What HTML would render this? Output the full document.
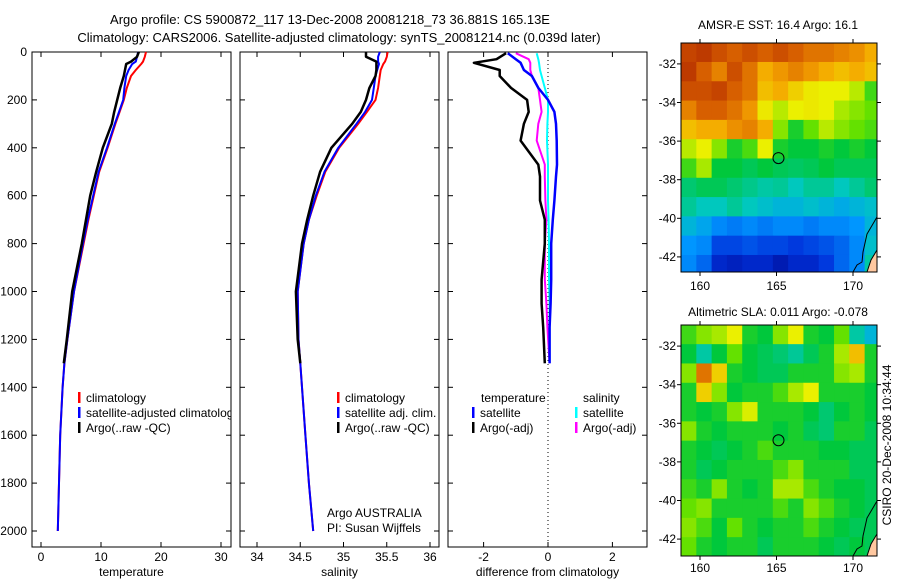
<!DOCTYPE html>
<html><head><meta charset="utf-8"><style>
body{margin:0;background:#fff;}
svg{display:block;font-family:"Liberation Sans",sans-serif;font-size:12px;}
</style></head><body>
<svg id="fig" width="900" height="580" viewBox="0 0 900 580">
<text x="330" y="24" text-anchor="middle" font-size="13">Argo profile: CS 5900872_117 13-Dec-2008 20081218_73 36.881S 165.13E</text>
<text x="339" y="42" text-anchor="middle" font-size="13">Climatology: CARS2006. Satellite-adjusted climatology: synTS_20081214.nc (0.039d later)</text>
<g id="g"></g>
</svg>
<script>
// ---- profile data ----
const depths=[0,20,40,50,75,100,150,200,250,300,400,500,600,700,800,1000,1200,1300,1400,1600,1800,2000];
const tempArgo=[16.3,16.0,15.0,14.2,14.0,13.8,13.2,12.7,12.2,11.8,10.3,9.2,8.2,7.5,6.8,5.2,4.3,3.8];
const tempSat=[16.2,16.0,15.8,15.2,14.6,14.2,13.9,13.7,13.0,12.3,11.0,9.6,8.7,7.8,7.0,5.5,4.4,3.9,3.6,3.2,3.0,2.8];
const tempClim=[17.5,17.3,17.0,16.7,15.8,15.0,14.3,13.8,13.1,12.4,11.1,9.7,8.8,7.9,7.1,5.5,4.4,3.9,3.6,3.2,3.0,2.8];
const salArgo=[35.26,35.26,35.38,35.38,35.38,35.37,35.30,35.26,35.2,35.1,34.86,34.73,34.65,34.58,34.52,34.45,34.47,34.5];
const salSat=[35.42,35.40,35.40,35.41,35.39,35.37,35.35,35.33,35.25,35.15,34.94,34.78,34.68,34.6,34.54,34.47,34.48,34.5,34.52,34.56,34.6,34.65];
const salClim=[35.51,35.50,35.48,35.46,35.43,35.42,35.40,35.37,35.27,35.17,34.95,34.79,34.69,34.6,34.54,34.47,34.48,34.5,34.52,34.56,34.6,34.65];
const diffDepths=[5,30,45,75,100,150,200,250,300,370,470,520,620,700,800,950,1050,1150,1300];
const dTempArgo=[-1.3,-1.6,-2.3,-1.5,-1.5,-1.15,-0.65,-0.6,-0.75,-0.85,-0.3,-0.25,-0.25,-0.1,-0.1,-0.2,-0.2,-0.15,-0.1];
const dTempSat=[-1.25,-1.0,-0.85,-0.75,-0.5,-0.3,0.0,0.2,0.25,0.27,0.28,0.25,0.2,0.15,0.1,0.1,0.08,0.05,0.05];
const dSalArgo=[-1.0,-0.6,-0.55,-0.55,-0.5,-0.3,-0.25,-0.2,-0.3,-0.35,-0.1,-0.1,-0.08,-0.05,-0.1,-0.1,-0.05,-0.02,0.05];
const dSalSat=[-0.35,-0.3,-0.28,-0.25,-0.2,-0.1,0.0,0.0,-0.02,-0.03,0.0,0.0,0.0,0.02,0.03,0.03,0.05,0.05,0.05];
const depthTicks=[0,200,400,600,800,1000,1200,1400,1600,1800,2000];
const tempTicks=[0,10,20,30];
const salTicks=[34,34.5,35,35.5,36];
const salTickLabels=["34","34.5","35","35.5","36"];
const diffTicks=[-2,0,2];
// ---- map data (normalised 0..1 colour values, 1-degree cells, rows north->south) ----
const sstGrid=[
[0.9,0.92,0.88,0.85,0.88,0.85,0.88,0.85,0.82,0.82,0.8,0.78,0.74],
[0.92,0.85,0.8,0.88,0.82,0.74,0.77,0.8,0.77,0.74,0.72,0.74,0.72],
[0.88,0.88,0.9,0.85,0.82,0.72,0.74,0.7,0.67,0.66,0.66,0.63,0.55],
[0.8,0.85,0.85,0.82,0.77,0.67,0.63,0.66,0.67,0.66,0.62,0.6,0.58],
[0.72,0.74,0.74,0.78,0.8,0.74,0.6,0.52,0.58,0.63,0.6,0.58,0.56],
[0.63,0.66,0.6,0.52,0.56,0.66,0.52,0.5,0.5,0.52,0.5,0.52,0.5],
[0.55,0.62,0.5,0.5,0.48,0.5,0.48,0.47,0.48,0.5,0.48,0.48,0.48],
[0.46,0.48,0.48,0.46,0.44,0.42,0.43,0.4,0.43,0.43,0.4,0.43,0.46],
[0.43,0.4,0.4,0.43,0.4,0.38,0.36,0.36,0.38,0.36,0.34,0.36,0.38],
[0.36,0.33,0.28,0.26,0.28,0.26,0.28,0.28,0.26,0.28,0.28,0.3,0.36],
[0.3,0.28,0.18,0.18,0.2,0.18,0.18,0.16,0.18,0.2,0.23,0.28,0.38],
[0.28,0.23,0.12,0.1,0.12,0.12,0.08,0.12,0.12,0.16,0.23,0.28,0.42]];
const slaGrid=[
[0.55,0.6,0.62,0.66,0.52,0.5,0.6,0.66,0.52,0.5,0.58,0.42,0.36],
[0.5,0.42,0.5,0.58,0.5,0.48,0.46,0.43,0.48,0.52,0.62,0.72,0.52],
[0.6,0.82,0.7,0.52,0.5,0.48,0.48,0.52,0.52,0.52,0.6,0.62,0.52],
[0.52,0.7,0.6,0.5,0.52,0.52,0.56,0.62,0.66,0.52,0.52,0.52,0.5],
[0.52,0.5,0.52,0.6,0.65,0.52,0.52,0.52,0.5,0.46,0.5,0.52,0.5],
[0.6,0.52,0.5,0.52,0.52,0.52,0.5,0.52,0.48,0.46,0.52,0.52,0.48],
[0.52,0.5,0.48,0.5,0.52,0.56,0.52,0.52,0.52,0.5,0.5,0.48,0.48],
[0.52,0.48,0.5,0.52,0.52,0.52,0.56,0.6,0.52,0.52,0.52,0.48,0.48],
[0.55,0.52,0.6,0.52,0.5,0.52,0.62,0.62,0.56,0.52,0.5,0.5,0.48],
[0.58,0.6,0.52,0.52,0.52,0.52,0.56,0.52,0.6,0.56,0.52,0.5,0.48],
[0.6,0.56,0.5,0.58,0.52,0.5,0.52,0.52,0.56,0.52,0.5,0.48,0.48],
[0.58,0.52,0.5,0.52,0.52,0.48,0.52,0.52,0.52,0.5,0.48,0.5,0.48]];
const lonTicks=[160,165,170];
const latTicks=[-32,-34,-36,-38,-40,-42];
const latTickLabels=["-32","-34","-36","-38","-40","-42"];
const argoLon=165.13, argoLat=-36.88;

const NS="http://www.w3.org/2000/svg";
const G=document.getElementById('g');
function el(tag,attrs,parent,txt){const e=document.createElementNS(NS,tag);for(const k in attrs)e.setAttribute(k,attrs[k]);if(txt!==undefined)e.textContent=txt;(parent||G).appendChild(e);return e;}
const yD=d=>52+d*0.2395;
const PT=52,PB=547;

function panel(name,x0,x1,xs,xticks,xlabels,xtitle,leftLabels){
  const g=el('g',{});
  
  
  const r=el('rect',{x:x0,y:PT,width:x1-x0,height:PB-PT,fill:'#fff',stroke:'#000','stroke-width':1},g);
  
  
  depthTicks.forEach(d=>{
    const y=yD(d);
    el('line',{x1:x0,x2:x0+5,y1:y,y2:y,stroke:'#000'},g);
    el('line',{x1:x1-5,x2:x1,y1:y,y2:y,stroke:'#000'},g);
    if(leftLabels){const t=el('text',{x:x0-5,y:y+4,'text-anchor':'end'},g,String(d));
      
      }
  });
  xticks.forEach((v,i)=>{
    const x=xs(v);
    el('line',{x1:x,x2:x,y1:PB,y2:PB-5,stroke:'#000'},g);
    el('line',{x1:x,x2:x,y1:PT,y2:PT+5,stroke:'#000'},g);
    const t=el('text',{x:x,y:PB+14,'text-anchor':'middle'},g,xlabels[i]);
    
    
  });
  const t=el('text',{x:(x0+x1)/2,y:PB+29,'text-anchor':'middle'},g,xtitle);
  
  
  return g;
}
function line(g,xs,vals,ds,color,w,name){
  const pts=vals.map((v,i)=>xs(v).toFixed(1)+','+yD(ds[i]).toFixed(1)).join(' ');
  const p=el('polyline',{points:pts,fill:'none',stroke:color,'stroke-width':w,'stroke-linejoin':'round'},g);
  
  
}
function legend(g,x,y,color,label,name){
  const r=el('rect',{x:x,y:y-10,width:2.5,height:11,fill:color},g);
  
  
  if(label!==null){const t=el('text',{x:x+8,y:y},g,label);
  
  }
}
// panel 1 temperature
const xT=v=>41+6*v;
const p1=panel('temperature-panel',32,231,xT,tempTicks,tempTicks.map(String),'temperature',true);
line(p1,xT,tempClim,depths,'#ff0000',2,'temp-climatology-line');
line(p1,xT,tempSat,depths,'#0000ff',2,'temp-satellite-line');
line(p1,xT,tempArgo,depths,'#000000',2.5,'temp-argo-line');
const clip=el('clipPath',{id:'c1'});el('rect',{x:32,y:52,width:199,height:495},clip);
const lg1=el('g',{'clip-path':'url(#c1)'},p1);
legend(lg1,78,402,'#ff0000','climatology','legend-climatology');
legend(lg1,78,417,'#0000ff','satellite-adjusted climatology','legend-satellite-adjusted');
legend(lg1,78,432,'#000000','Argo(..raw -QC)','legend-argo');
// panel 2 salinity
const xS=v=>257+(v-34)*86.5;
const p2=panel('salinity-panel',240,439,xS,salTicks,salTickLabels,'salinity',false);
line(p2,xS,salClim,depths,'#ff0000',2,'sal-climatology-line');
line(p2,xS,salSat,depths,'#0000ff',2,'sal-satellite-line');
line(p2,xS,salArgo,depths,'#000000',2.5,'sal-argo-line');
legend(p2,337,402,'#ff0000','climatology','legend-climatology-2');
legend(p2,337,417,'#0000ff','satellite adj. clim.','legend-satellite-2');
legend(p2,337,432,'#000000','Argo(..raw -QC)','legend-argo-2');
let t=el('text',{x:327,y:517},p2,'Argo AUSTRALIA');
t=el('text',{x:327,y:532},p2,'PI: Susan Wijffels');
// panel 3 differences
const xDf=v=>548+32.2*v;
const p3=panel('difference-panel',448,647,xDf,diffTicks,diffTicks.map(String),'difference from climatology',false);
const zl=el('line',{x1:xDf(0),x2:xDf(0),y1:PT,y2:PB,stroke:'#000','stroke-dasharray':'1,3'},p3);

line(p3,xDf,dSalSat,diffDepths,'#00ffff',2,'diff-sal-satellite-line');
line(p3,xDf,dSalArgo,diffDepths,'#ff00ff',2,'diff-sal-argo-line');
line(p3,xDf,dTempSat,diffDepths,'#0000ff',2.5,'diff-temp-satellite-line');
line(p3,xDf,dTempArgo,diffDepths,'#000000',2.5,'diff-temp-argo-line');
t=el('text',{x:481,y:402},p3,'temperature');
t=el('text',{x:583,y:402},p3,'salinity');
legend(p3,472,417,'#0000ff','satellite','legend-temp-satellite');
legend(p3,472,432,'#000000','Argo(-adj)','legend-temp-argo');
legend(p3,575,417,'#00ffff','satellite','legend-sal-satellite');
legend(p3,575,432,'#ff00ff','Argo(-adj)','legend-sal-argo');

// maps
const cmapStops=[[0,[0,0,130]],[0.15,[0,50,220]],[0.3,[0,150,255]],[0.4,[0,200,190]],[0.5,[0,200,60]],[0.58,[100,225,0]],[0.66,[235,240,0]],[0.75,[245,165,0]],[0.85,[215,95,0]],[1,[160,15,0]]];
function cmap(v){
  v=Math.min(1,Math.max(0,v));
  for(let i=1;i<cmapStops.length;i++){
    const [a,ca]=cmapStops[i-1],[b,cb]=cmapStops[i];
    if(v<=b){const f=(v-a)/(b-a);return 'rgb('+ca.map((c,k)=>Math.round(c+(cb[k]-c)*f)).join(',')+')';}
  }
  return 'rgb(160,15,0)';
}
function map(name,top,bottom,grid,title,titleY,labelY){
  const g=el('g',{});
  
  
  const L=681,R=877;
  const xL=lon=>700+(lon-160)*15.3;
  const latAt=-32, y32=top+(bottom-top)*(1.1/12.05);
  const yL=lat=>y32+(latAt-lat)*19.3;
  const lon0=158.76, lat0=-30.9;
  grid.forEach((row,i)=>row.forEach((v,j)=>{
    const x=Math.max(L,xL(lon0+j)), x2=Math.min(R,xL(lon0+j+1));
    const y=Math.max(top,yL(lat0-i)), y2=Math.min(bottom,yL(lat0-i-1));
    const c=el('rect',{x:x,y:y,width:x2-x+0.5,height:y2-y+0.5,fill:cmap(v)},g);
    
    
  }));
  const land=el('polygon',{points:`${R},${bottom-22} ${R-6},${bottom-12} ${R-10},${bottom} ${R},${bottom}`,fill:'#ffc8a0',stroke:'#000'},g);
  
  const cst=el('polyline',{points:`${R},${bottom-55} ${R-10},${bottom-38} ${R-14},${bottom-20} ${R-15},${bottom-10} ${R-20},${bottom-7} ${R-24},${bottom}`,fill:'none',stroke:'#000'},g);
  
  const fr=el('rect',{x:L,y:top,width:R-L,height:bottom-top,fill:'none',stroke:'#000'},g);
  
  lonTicks.forEach(lon=>{const x=xL(lon);
    el('line',{x1:x,x2:x,y1:top,y2:top-4,stroke:'#000'},g);
    el('line',{x1:x,x2:x,y1:bottom,y2:bottom+4,stroke:'#000'},g);
    const tt=el('text',{x:x,y:labelY,'text-anchor':'middle'},g,String(lon));
    });
  latTicks.forEach((lat,i)=>{const y=yL(lat);
    el('line',{x1:L,x2:L-4,y1:y,y2:y,stroke:'#000'},g);
    el('line',{x1:R,x2:R+4,y1:y,y2:y,stroke:'#000'},g);
    const tt=el('text',{x:L-5,y:y+4,'text-anchor':'end'},g,latTickLabels[i]);
    });
  const c=el('circle',{cx:xL(argoLon),cy:yL(argoLat),r:5.5,fill:'none',stroke:'#000'},g);
  
  const tt=el('text',{x:778,y:titleY,'text-anchor':'middle'},g,title);
  
}
map('sst-map',43,272,sstGrid,'AMSR-E SST: 16.4 Argo: 16.1',29,290);
map('sla-map',325,556,slaGrid,'Altimetric SLA: 0.011  Argo: -0.078',316,572);
t=el('text',{x:0,y:0,transform:'translate(891,445) rotate(-90)','text-anchor':'middle'},G,'CSIRO 20-Dec-2008 10:34:44');

</script>
</body></html>
